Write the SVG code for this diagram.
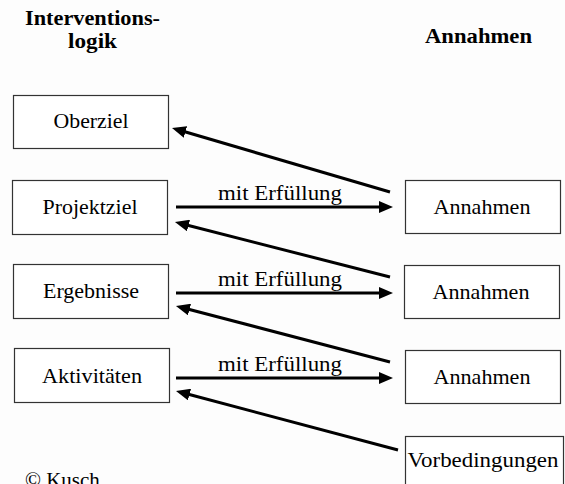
<svg xmlns="http://www.w3.org/2000/svg" width="565" height="484" viewBox="0 0 565 484" font-family="'Liberation Serif', 'Times New Roman', serif">
  <style>
    text { font-family: "Liberation Serif", "Times New Roman", serif; fill: #000; }
    .head { font-size: 21px; font-weight: bold; }
    .label { font-size: 21px; text-anchor: middle; }
    .box rect { fill: #fff; stroke: #333; stroke-width: 1.2; }
    .conn path { stroke: #000; stroke-width: 3; fill: none; marker-end: url(#arrow); }
  </style>
  <defs>
    <marker id="arrow" markerUnits="userSpaceOnUse" markerWidth="15" markerHeight="12" refX="6" refY="6" orient="auto">
      <path d="M0,0 L14,6 L0,12 z" fill="#000"/>
    </marker>
  </defs>
  <rect width="565" height="484" fill="#fdfdfd"/>

  <!-- column headings -->
  <text class="head" x="25" y="25" textLength="135" lengthAdjust="spacingAndGlyphs">Interventions-</text>
  <text class="head" x="68" y="48" textLength="49" lengthAdjust="spacingAndGlyphs">logik</text>
  <text class="head" x="425" y="43" textLength="107" lengthAdjust="spacingAndGlyphs">Annahmen</text>

  <!-- intervention logic column -->
  <g id="oberziel" class="box">
    <rect x="13.5" y="95.5" width="155" height="53"/>
    <text class="label" x="91" y="128" textLength="75" lengthAdjust="spacingAndGlyphs">Oberziel</text>
  </g>
  <g id="projektziel" class="box">
    <rect x="12.5" y="180.5" width="155" height="54"/>
    <text class="label" x="90" y="214" textLength="95" lengthAdjust="spacingAndGlyphs">Projektziel</text>
  </g>
  <g id="ergebnisse" class="box">
    <rect x="13.5" y="264.5" width="155" height="54"/>
    <text class="label" x="91" y="298" textLength="96" lengthAdjust="spacingAndGlyphs">Ergebnisse</text>
  </g>
  <g id="aktivitaeten" class="box">
    <rect x="14.5" y="348.5" width="155" height="54"/>
    <text class="label" x="92" y="383" textLength="100" lengthAdjust="spacingAndGlyphs">Aktivitäten</text>
  </g>

  <!-- assumptions column -->
  <g id="annahmen1" class="box">
    <rect x="405.5" y="180.5" width="155" height="53"/>
    <text class="label" x="482" y="214" textLength="97" lengthAdjust="spacingAndGlyphs">Annahmen</text>
  </g>
  <g id="annahmen2" class="box">
    <rect x="404.5" y="265.5" width="155" height="53"/>
    <text class="label" x="481" y="299" textLength="97" lengthAdjust="spacingAndGlyphs">Annahmen</text>
  </g>
  <g id="annahmen3" class="box">
    <rect x="405.5" y="350.5" width="155" height="53"/>
    <text class="label" x="482" y="384" textLength="97" lengthAdjust="spacingAndGlyphs">Annahmen</text>
  </g>
  <g id="vorbedingungen" class="box">
    <rect x="405.5" y="436.5" width="158" height="56"/>
    <text class="label" x="483" y="467" textLength="151" lengthAdjust="spacingAndGlyphs">Vorbedingungen</text>
  </g>

  <!-- connectors -->
  <g id="connectors" class="conn">
    <path d="M390,192 L179.7,130.3"/>
    <path d="M176,207 L385,207"/>
    <path d="M390,277 L182.7,224"/>
    <path d="M176,293 L385,293"/>
    <path d="M390,362 L183.7,308"/>
    <path d="M176,378 L385,378"/>
    <path d="M398,450 L183.7,393"/>
  </g>
  <g id="connector-labels">
    <text class="label" x="280" y="200" textLength="124" lengthAdjust="spacingAndGlyphs">mit Erfüllung</text>
    <text class="label" x="280" y="286" textLength="124" lengthAdjust="spacingAndGlyphs">mit Erfüllung</text>
    <text class="label" x="280" y="371" textLength="124" lengthAdjust="spacingAndGlyphs">mit Erfüllung</text>
  </g>

  <text x="25" y="487" style="font-size:21px">© Kusch</text>
</svg>
